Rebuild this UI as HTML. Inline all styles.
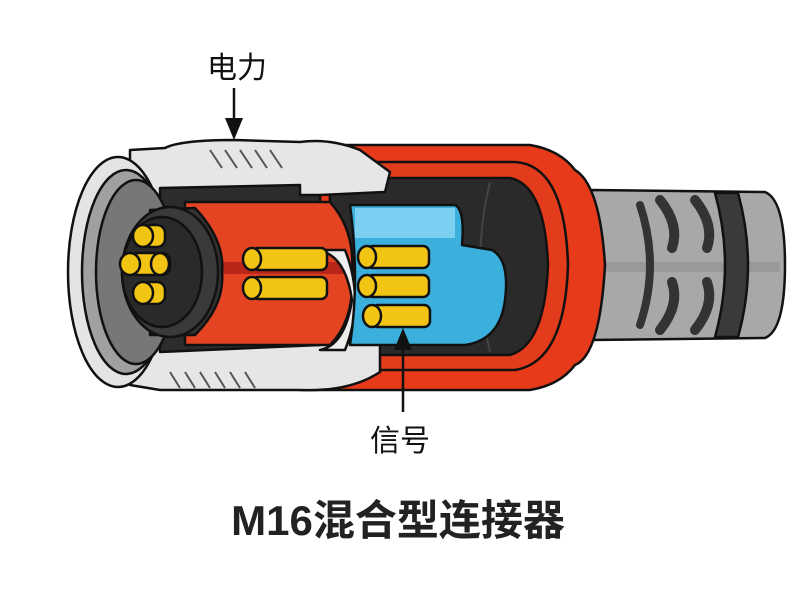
<!DOCTYPE html>
<html><head><meta charset="utf-8"><style>
html,body{margin:0;padding:0;background:#fff;}
svg{display:block}
text{font-family:"Liberation Sans","Noto Sans CJK SC",sans-serif;}
</style></head><body>
<svg width="800" height="600" viewBox="0 0 800 600" xmlns="http://www.w3.org/2000/svg" stroke="#111" stroke-width="2.5" stroke-linejoin="round">
<rect width="800" height="600" fill="#fff" stroke="none"/>
<!-- strain relief -->
<path d="M590 190 L765 192 Q785 200 785 265 Q785 330 765 338 L590 340 Z" fill="#a8a8a8"/>
<rect x="590" y="262" width="190" height="10" fill="#999" stroke="none"/>
<path d="M715 193 Q735 265 715 337 L738 337 Q758 265 738 193 Z" fill="#3a3a3a"/>
<path d="M640 205 Q660 265 640 325" fill="none" stroke="#333" stroke-width="8" stroke-linecap="round"/>
<path d="M660 200 Q680 225 672 248" fill="none" stroke="#333" stroke-width="10" stroke-linecap="round"/>
<path d="M660 330 Q680 305 672 282" fill="none" stroke="#333" stroke-width="10" stroke-linecap="round"/>
<path d="M695 200 Q715 225 707 248" fill="none" stroke="#333" stroke-width="10" stroke-linecap="round"/>
<path d="M695 330 Q715 305 707 282" fill="none" stroke="#333" stroke-width="10" stroke-linecap="round"/>
<!-- red outer sleeve -->
<path d="M300 145 L530 145 Q560 150 575 170 Q600 185 605 265 Q600 355 575 365 Q560 385 530 390 L300 390 Z" fill="#e63a1a"/>
<path d="M330 162 L515 162 Q565 165 568 265 Q565 362 515 370 L330 370 Z" fill="#e23c1c"/>
<path d="M330 178 L510 178 Q545 185 548 265 Q545 345 510 355 L330 355 Z" fill="#2a2a2a"/>
<path d="M490 182 Q470 265 490 352" fill="none" stroke="#444" stroke-width="2"/>
<!-- silver nut -->
<path d="M130 150 L165 148 Q180 140 235 140 L300 142 Q330 138 360 150 L390 172 L385 192 L320 195 L320 340 L380 345 L380 372 Q350 392 300 390 L160 390 L130 385 Z" fill="#e6e6e6"/>
<g stroke="#555" stroke-width="2">
<line x1="210" y1="150" x2="222" y2="168"/><line x1="225" y1="150" x2="237" y2="168"/><line x1="240" y1="150" x2="252" y2="168"/><line x1="255" y1="150" x2="267" y2="168"/><line x1="270" y1="150" x2="282" y2="168"/>
<line x1="170" y1="372" x2="180" y2="388"/><line x1="185" y1="372" x2="195" y2="388"/><line x1="200" y1="372" x2="210" y2="388"/><line x1="215" y1="372" x2="225" y2="388"/><line x1="230" y1="372" x2="240" y2="388"/><line x1="245" y1="372" x2="255" y2="388"/>
</g>
<!-- inner dark cavity -->
<path d="M160 188 L300 185 L300 195 L320 195 L320 345 L160 352 Z" fill="#2c2c2c"/>
<!-- red inner cylinder -->
<path d="M185 202 L330 202 Q355 230 352 272 Q355 320 330 345 L185 345 Z" fill="#e44422"/>
<rect x="185" y="262" width="160" height="12" fill="#b8271a" stroke="none"/>
<!-- white retaining ring -->
<path d="M315 250 Q345 252 352 300 Q345 345 320 350 L345 350 Q365 300 345 250 Z" fill="#eee"/>
<!-- blue -->
<path d="M350 205 L455 205 Q465 210 462 245 L492 250 Q510 260 505 300 Q500 340 465 345 L350 345 Q360 280 350 205 Z" fill="#3bb0dd"/>
<rect x="355" y="208" width="100" height="30" fill="#7ccff0" stroke="none"/>
<!-- front face -->
<ellipse cx="118" cy="272" rx="50" ry="115" fill="#e4e4e4"/>
<ellipse cx="126" cy="272" rx="44" ry="102" fill="#a0a0a0"/>
<ellipse cx="136" cy="272" rx="40" ry="92" fill="#777"/>
<path d="M150 210 L195 208 Q225 240 222 272 Q225 305 195 335 L150 335 Z" fill="#333"/>
<ellipse cx="170" cy="272" rx="48" ry="65" fill="#3a3a3a"/>
<ellipse cx="162" cy="272" rx="40" ry="55" fill="#2a2a2a"/>
<!-- front pins -->
<g fill="#f2c515">
<rect x="143" y="225" width="22" height="22" rx="8"/><ellipse cx="143" cy="236" rx="10" ry="11"/>
<rect x="130" y="253" width="40" height="22" rx="8"/><ellipse cx="130" cy="264" rx="10" ry="11"/><ellipse cx="160" cy="264" rx="9" ry="11"/>
<rect x="143" y="282" width="22" height="22" rx="8"/><ellipse cx="143" cy="293" rx="10" ry="11"/>
</g>
<!-- power / signal pins -->
<g fill="#f2c515">
<rect x="252" y="248" width="75" height="22" rx="6"/><ellipse cx="252" cy="259" rx="9" ry="11"/>
<rect x="252" y="277" width="75" height="22" rx="6"/><ellipse cx="252" cy="288" rx="9" ry="11"/>
<rect x="367" y="246" width="62" height="22" rx="6"/><ellipse cx="367" cy="257" rx="9" ry="11"/>
<rect x="367" y="275" width="62" height="22" rx="6"/><ellipse cx="367" cy="286" rx="9" ry="11"/>
<rect x="372" y="305" width="58" height="22" rx="6"/><ellipse cx="372" cy="316" rx="9" ry="11"/>
</g>
<!-- labels / arrows -->
<text x="237" y="78" font-size="30" text-anchor="middle" fill="#111" stroke="none">电力</text>
<line x1="234" y1="88" x2="234" y2="122" stroke-width="2.5"/>
<polygon points="225,118 243,118 234,140" fill="#111" stroke="none"/>
<line x1="403" y1="412" x2="403" y2="345" stroke-width="2.5"/>
<polygon points="394,350 412,350 403,328" fill="#111" stroke="none"/>
<text x="400" y="451" font-size="30" text-anchor="middle" fill="#111" stroke="none">信号</text>
<text x="398" y="535" font-size="42" font-weight="bold" text-anchor="middle" fill="#222" stroke="none">M16混合型连接器</text>
</svg>
</body></html>
